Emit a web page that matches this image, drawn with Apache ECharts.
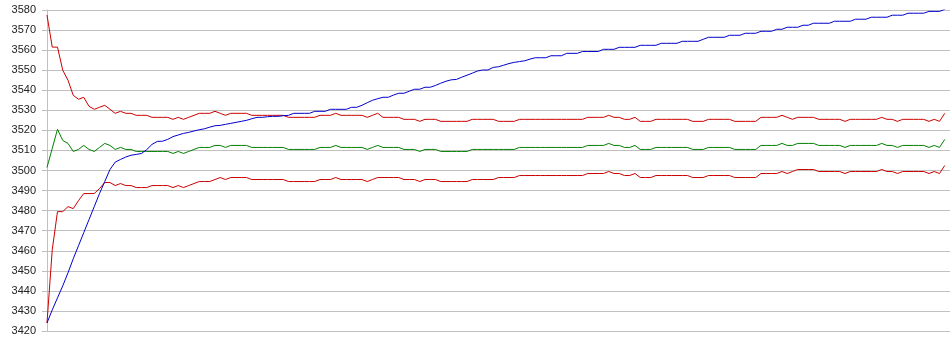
<!DOCTYPE html>
<html>
<head>
    <meta charset="utf-8"/>
    <style type="text/css">
        body, html {
            width: 100%;
            height: 100%;
            margin: 0;
            background: #fff;
        }
        #chart {
            width: 950px;
            height: 355px;
        }
    </style>
    <script src="https://cdn.jsdelivr.net/npm/echarts@6/dist/echarts.min.js"></script>
</head>
<body>
<div id="chart"></div>
<script type="text/javascript">
    // y axis ticks
    var yMin = 3420, yMax = 3580, yStep = 10;

    // upper band (red)
    var upper = [
        3577.5, 3561.5, 3561.5, 3550, 3545, 3537.5, 3535.5, 3536.5, 3532, 3530.5,
        3531.5, 3532.5, 3530.5, 3528.5, 3529.5, 3528.5, 3528.5, 3527.5, 3527.5, 3527.5,
        3526.5, 3526.5, 3526.5, 3526.5, 3525.5, 3526.5, 3525.5, 3526.5, 3527.5, 3528.5,
        3528.5, 3528.5, 3529.5, 3528.5, 3527.5, 3528.5, 3528.5, 3528.5, 3528.5, 3527.5,
        3527.5, 3527.5, 3527.5, 3527.5, 3527.5, 3527.5, 3526.5, 3526.5, 3526.5, 3526.5,
        3526.5, 3526.5, 3527.5, 3527.5, 3527.5, 3528.5, 3527.5, 3527.5, 3527.5, 3527.5,
        3527.5, 3526.5, 3527.5, 3528.5, 3526.5, 3526.5, 3526.5, 3526.5, 3525.5, 3525.5,
        3525.5, 3524.5, 3525.5, 3525.5, 3525.5, 3524.5, 3524.5, 3524.5, 3524.5, 3524.5,
        3524.5, 3525.5, 3525.5, 3525.5, 3525.5, 3525.5, 3524.5, 3524.5, 3524.5, 3524.5,
        3525.5, 3525.5, 3525.5, 3525.5, 3525.5, 3525.5, 3525.5, 3525.5, 3525.5, 3525.5,
        3525.5, 3525.5, 3525.5, 3526.5, 3526.5, 3526.5, 3526.5, 3527.5, 3526.5, 3526.5,
        3525.5, 3525.5, 3526.5, 3524.5, 3524.5, 3524.5, 3525.5, 3525.5, 3525.5, 3525.5,
        3525.5, 3525.5, 3525.5, 3524.5, 3524.5, 3524.5, 3525.5, 3525.5, 3525.5, 3525.5,
        3525.5, 3524.5, 3524.5, 3524.5, 3524.5, 3524.5, 3526.5, 3526.5, 3526.5, 3526.5,
        3527.5, 3526.5, 3525.5, 3526.5, 3526.5, 3526.5, 3526.5, 3525.5, 3525.5, 3525.5,
        3525.5, 3525.5, 3524.5, 3525.5, 3525.5, 3525.5, 3525.5, 3525.5, 3525.5, 3526.5,
        3525.5, 3525.5, 3524.5, 3525.5, 3525.5, 3525.5, 3525.5, 3525.5, 3524.5, 3525.5,
        3524.5, 3528.5
    ];

    // middle line (green)
    var middle = [
        3501.5, 3511, 3520.5, 3515, 3513.5, 3509.5, 3510.5, 3512.5, 3510.5, 3509.5,
        3511.5, 3513.5, 3512.5, 3510.5, 3511.5, 3510.5, 3510.5, 3509.5, 3509.5, 3509.5,
        3509.5, 3509.5, 3509.5, 3509.5, 3508.5, 3509.5, 3508.5, 3509.5, 3510.5, 3511.5,
        3511.5, 3511.5, 3512.5, 3512.5, 3511.5, 3512.5, 3512.5, 3512.5, 3512.5, 3511.5,
        3511.5, 3511.5, 3511.5, 3511.5, 3511.5, 3511.5, 3510.5, 3510.5, 3510.5, 3510.5,
        3510.5, 3510.5, 3511.5, 3511.5, 3511.5, 3512.5, 3511.5, 3511.5, 3511.5, 3511.5,
        3511.5, 3510.5, 3511.5, 3512.5, 3511.5, 3511.5, 3511.5, 3511.5, 3510.5, 3510.5,
        3510.5, 3509.5, 3510.5, 3510.5, 3510.5, 3509.5, 3509.5, 3509.5, 3509.5, 3509.5,
        3509.5, 3510.5, 3510.5, 3510.5, 3510.5, 3510.5, 3510.5, 3510.5, 3510.5, 3510.5,
        3511.5, 3511.5, 3511.5, 3511.5, 3511.5, 3511.5, 3511.5, 3511.5, 3511.5, 3511.5,
        3511.5, 3511.5, 3511.5, 3512.5, 3512.5, 3512.5, 3512.5, 3513.5, 3512.5, 3512.5,
        3511.5, 3511.5, 3512.5, 3510.5, 3510.5, 3510.5, 3511.5, 3511.5, 3511.5, 3511.5,
        3511.5, 3511.5, 3511.5, 3510.5, 3510.5, 3510.5, 3511.5, 3511.5, 3511.5, 3511.5,
        3511.5, 3510.5, 3510.5, 3510.5, 3510.5, 3510.5, 3512.5, 3512.5, 3512.5, 3512.5,
        3513.5, 3512.5, 3512.5, 3513.5, 3513.5, 3513.5, 3513.5, 3512.5, 3512.5, 3512.5,
        3512.5, 3512.5, 3511.5, 3512.5, 3512.5, 3512.5, 3512.5, 3512.5, 3512.5, 3513.5,
        3512.5, 3512.5, 3511.5, 3512.5, 3512.5, 3512.5, 3512.5, 3512.5, 3511.5, 3512.5,
        3511.5, 3515.5
    ];

    // lower band (red)
    var lower = [
        3424, 3460.5, 3479.5, 3479.5, 3482, 3481, 3485, 3488.5, 3488.5, 3488.5,
        3491, 3494, 3494, 3492.5, 3493.5, 3492.5, 3492.5, 3491.5, 3491.5, 3491.5,
        3492.5, 3492.5, 3492.5, 3492.5, 3491.5, 3492.5, 3491.5, 3492.5, 3493.5, 3494.5,
        3494.5, 3494.5, 3495.5, 3496.5, 3495.5, 3496.5, 3496.5, 3496.5, 3496.5, 3495.5,
        3495.5, 3495.5, 3495.5, 3495.5, 3495.5, 3495.5, 3494.5, 3494.5, 3494.5, 3494.5,
        3494.5, 3494.5, 3495.5, 3495.5, 3495.5, 3496.5, 3495.5, 3495.5, 3495.5, 3495.5,
        3495.5, 3494.5, 3495.5, 3496.5, 3496.5, 3496.5, 3496.5, 3496.5, 3495.5, 3495.5,
        3495.5, 3494.5, 3495.5, 3495.5, 3495.5, 3494.5, 3494.5, 3494.5, 3494.5, 3494.5,
        3494.5, 3495.5, 3495.5, 3495.5, 3495.5, 3495.5, 3496.5, 3496.5, 3496.5, 3496.5,
        3497.5, 3497.5, 3497.5, 3497.5, 3497.5, 3497.5, 3497.5, 3497.5, 3497.5, 3497.5,
        3497.5, 3497.5, 3497.5, 3498.5, 3498.5, 3498.5, 3498.5, 3499.5, 3498.5, 3498.5,
        3497.5, 3497.5, 3498.5, 3496.5, 3496.5, 3496.5, 3497.5, 3497.5, 3497.5, 3497.5,
        3497.5, 3497.5, 3497.5, 3496.5, 3496.5, 3496.5, 3497.5, 3497.5, 3497.5, 3497.5,
        3497.5, 3496.5, 3496.5, 3496.5, 3496.5, 3496.5, 3498.5, 3498.5, 3498.5, 3498.5,
        3499.5, 3498.5, 3499.5, 3500.5, 3500.5, 3500.5, 3500.5, 3499.5, 3499.5, 3499.5,
        3499.5, 3499.5, 3498.5, 3499.5, 3499.5, 3499.5, 3499.5, 3499.5, 3499.5, 3500.5,
        3499.5, 3499.5, 3498.5, 3499.5, 3499.5, 3499.5, 3499.5, 3499.5, 3498.5, 3499.5,
        3498.5, 3502.5
    ];

    // rising line (blue)
    var price = [
        3424, 3430.5, 3436.5, 3442.5, 3449, 3456, 3462.5, 3469, 3475.5, 3482,
        3488.5, 3494.5, 3500.5, 3504.2, 3505.5, 3506.7, 3507.6, 3508, 3508.5, 3510.4,
        3513, 3514.5, 3514.6, 3515.5, 3516.9, 3517.7, 3518.5, 3519, 3519.7, 3520.3,
        3520.8, 3521.6, 3522.3, 3522.5, 3523, 3523.5, 3524, 3524.5, 3525, 3525.8,
        3526.5, 3526.5, 3526.8, 3527, 3527, 3527.3, 3527.5, 3528.5, 3528.5, 3528.5,
        3528.5, 3529.5, 3529.5, 3529.5, 3530.5, 3530.5, 3530.5, 3530.5, 3531.5, 3531.5,
        3532.5, 3533.8, 3535, 3535.8, 3536.5, 3536.5, 3537.6, 3538.5, 3538.5, 3539.5,
        3540.5, 3540.5, 3541.5, 3541.5, 3542.4, 3543.5, 3544.5, 3545.2, 3545.4, 3546.5,
        3547.5, 3548.5, 3549.6, 3550.1, 3550.1, 3551.4, 3551.7, 3552.5, 3553.3, 3553.9,
        3554.3, 3554.7, 3555.5, 3556.2, 3556.2, 3556.2, 3557.2, 3557.2, 3557.2, 3558.4,
        3558.4, 3558.4, 3559.3, 3559.3, 3559.3, 3559.3, 3560.4, 3560.4, 3560.4, 3561.4,
        3561.4, 3561.4, 3561.4, 3562.4, 3562.4, 3562.4, 3562.4, 3563.4, 3563.4, 3563.4,
        3563.4, 3564.4, 3564.4, 3564.4, 3564.4, 3565.4, 3566.4, 3566.4, 3566.4, 3566.4,
        3567.4, 3567.4, 3567.4, 3568.4, 3568.4, 3568.4, 3569.4, 3569.4, 3569.4, 3570.4,
        3570.4, 3571.4, 3571.4, 3571.4, 3572.4, 3572.4, 3573.4, 3573.4, 3573.4, 3573.4,
        3574.4, 3574.4, 3574.4, 3574.4, 3575.4, 3575.4, 3575.4, 3576.4, 3576.4, 3576.4,
        3576.4, 3577.4, 3577.4, 3577.4, 3578.4, 3578.4, 3578.4, 3578.4, 3579.3, 3579.3,
        3579.3, 3580.3
    ];

    function pairs(arr) {
        var out = [];
        for (var i = 0; i < arr.length; i++) {
            out.push([i, arr[i]]);
        }
        return out;
    }

    function lineSeries(name, arr, color) {
        return {
            name: name,
            type: 'line',
            data: pairs(arr),
            showSymbol: false,
            symbol: 'none',
            lineStyle: {color: color, width: 1},
            itemStyle: {color: color},
            emphasis: {disabled: true}
        };
    }

    var myChart = echarts.init(document.getElementById('chart'), null, {renderer: 'canvas'});

    var option = {
        animation: false,
        backgroundColor: '#ffffff',
        grid: {
            left: 42,
            top: 10,
            width: 908,
            height: 321
        },
        xAxis: {
            type: 'value',
            min: -0.95,
            max: price.length,
            axisLine: {show: true, lineStyle: {color: '#c0c0c0', width: 1}},
            axisTick: {show: false},
            axisLabel: {show: false},
            splitLine: {show: false}
        },
        yAxis: {
            type: 'value',
            min: yMin,
            max: yMax,
            interval: yStep,
            axisLine: {show: true, lineStyle: {color: '#c0c0c0', width: 1}},
            axisTick: {show: false},
            axisLabel: {
                color: '#222222',
                fontFamily: 'Liberation Sans, Arial, sans-serif',
                fontSize: 11,
                margin: 6,
                formatter: function (v) { return String(v); }
            },
            splitLine: {show: true, lineStyle: {color: '#c0c0c0', width: 1}}
        },
        series: [
            lineSeries('lower', lower, '#cc0000'),
            lineSeries('upper', upper, '#cc0000'),
            lineSeries('middle', middle, '#008000'),
            lineSeries('price', price, '#0000cc')
        ]
    };
    myChart.setOption(option);
</script>
</body>
</html>
